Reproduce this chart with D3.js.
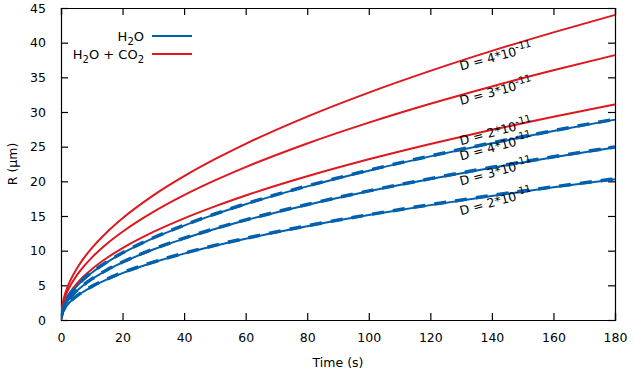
<!DOCTYPE html>
<html>
<head>
<meta charset="utf-8">
<script src="https://cdn.jsdelivr.net/npm/d3@7"></script>
<style>
  body { margin: 0; background: #fff; }
  text { font-family: "DejaVu Sans", sans-serif; font-size: 12.5px; fill: #000; }
</style>
</head>
<body>
<div id="root"></div>
<script>
// time points (s)
const times = [0, 0.5, 1, 2, 3, 5, 7, 10, 15, 20, 30, 40, 50, 60, 80, 100, 120, 140, 160, 180]

// H2O + CO2 (red)
const red4 = [0, 2.32, 3.28, 4.64, 5.68, 7.33, 8.68, 10.37, 12.70, 14.67, 17.97, 20.74, 23.19, 25.41, 29.34, 32.80, 35.93, 38.81, 41.49, 44.00]
const red3 = [0, 2.01, 2.85, 4.03, 4.93, 6.37, 7.53, 9.00, 11.03, 12.73, 15.59, 18.01, 20.13, 22.05, 25.46, 28.47, 31.19, 33.69, 36.01, 38.20]
const red2 = [0, 1.64, 2.32, 3.28, 4.01, 5.18, 6.13, 7.33, 8.98, 10.37, 12.70, 14.66, 16.39, 17.96, 20.73, 23.18, 25.39, 27.43, 29.32, 31.10]

// H2O (blue, solid)
const blue4 = [0, 1.52, 2.15, 3.05, 3.73, 4.82, 5.70, 6.81, 8.34, 9.63, 11.80, 13.62, 15.23, 16.69, 19.27, 21.54, 23.60, 25.49, 27.25, 28.90]
const blue3 = [0, 1.31, 1.86, 2.62, 3.21, 4.15, 4.91, 5.87, 7.19, 8.30, 10.17, 11.74, 13.12, 14.38, 16.60, 18.56, 20.33, 21.96, 23.48, 24.90]
const blue2 = [0, 1.07, 1.51, 2.14, 2.62, 3.38, 4.00, 4.79, 5.86, 6.77, 8.29, 9.57, 10.70, 11.72, 13.53, 15.13, 16.57, 17.90, 19.14, 20.30]

// H2O (blue, dashed)
const blue4d = [0.3, 1.62, 2.22, 3.12, 3.80, 4.88, 5.76, 6.87, 8.40, 9.69, 11.86, 13.68, 15.29, 16.75, 19.33, 21.60, 23.66, 25.55, 27.31, 28.96]
const blue3d = [0.3, 1.40, 1.93, 2.69, 3.28, 4.21, 4.97, 5.93, 7.25, 8.36, 10.23, 11.80, 13.18, 14.44, 16.66, 18.62, 20.39, 22.02, 23.54, 24.96]
const blue2d = [0.3, 1.15, 1.58, 2.21, 2.69, 3.44, 4.06, 4.85, 5.92, 6.83, 8.35, 9.63, 10.76, 11.78, 13.59, 15.19, 16.63, 17.96, 19.20, 20.36]

const xTicks = [0, 20, 40, 60, 80, 100, 120, 140, 160, 180]
const yTicks = [0, 5, 10, 15, 20, 25, 30, 35, 40, 45]

// curve labels: D value, position (t, R)
const labelD = ['4', '3', '2', '4', '3', '2']
const labelT = [130, 130, 130, 130, 130, 130]
const labelR = [36.0, 31.0, 25.2, 23.0, 19.4, 15.1]

const width = 635
const height = 374
const margin = { top: 8, right: 20, bottom: 54, left: 61 }

const blue = '#0060ad'
const red = '#dd181f'

const svg = d3.select('#root').append('svg')
  .attr('width', width)
  .attr('height', height)

const x = d3.scaleLinear().domain([0, 180]).range([margin.left, width - margin.right])
const y = d3.scaleLinear().domain([0, 45]).range([height - margin.bottom, margin.top])

const tickLen = 7

// axes with inward ticks on all four sides
svg.append('g')
  .attr('transform', `translate(0,${y(0)})`)
  .call(d3.axisBottom(x).tickValues(xTicks).tickSize(-tickLen).tickPadding(tickLen + 6))
svg.append('g')
  .attr('transform', `translate(0,${y(45)})`)
  .call(d3.axisTop(x).tickValues(xTicks).tickSize(-tickLen).tickFormat(''))
svg.append('g')
  .attr('transform', `translate(${x(0)},0)`)
  .call(d3.axisLeft(y).tickValues(yTicks).tickSize(-tickLen).tickPadding(tickLen + 8))
svg.append('g')
  .attr('transform', `translate(${x(180)},0)`)
  .call(d3.axisRight(y).tickValues(yTicks).tickSize(-tickLen).tickFormat(''))

svg.selectAll('.domain').attr('stroke', '#000').attr('stroke-width', 1.2)
svg.selectAll('.tick line').attr('stroke', '#000').attr('stroke-width', 1.2)
svg.selectAll('.tick text').style('font-family', '"DejaVu Sans", sans-serif').style('font-size', '12.5px')

// clip to plot area
svg.append('clipPath').attr('id', 'clip')
  .append('rect')
  .attr('x', x(0)).attr('y', y(45))
  .attr('width', x(180) - x(0)).attr('height', y(0) - y(45))

const line = d3.line()
  .x((d, i) => x(times[i]))
  .y(d => y(d))
  .curve(d3.curveMonotoneX)

const g = svg.append('g').attr('clip-path', 'url(#clip)')

for (const s of [red4, red3, red2]) {
  g.append('path').datum(s)
    .attr('fill', 'none').attr('stroke', red).attr('stroke-width', 2)
    .attr('d', line)
}
for (const s of [blue4d, blue3d, blue2d]) {
  g.append('path').datum(s)
    .attr('fill', 'none').attr('stroke', blue).attr('stroke-width', 3.5)
    .attr('stroke-dasharray', '12,9')
    .attr('d', line)
}
for (const s of [blue4, blue3, blue2]) {
  g.append('path').datum(s)
    .attr('fill', 'none').attr('stroke', blue).attr('stroke-width', 2)
    .attr('d', line)
}

// curve labels
labelD.forEach((d, i) => {
  const t = svg.append('text')
    .attr('transform', `translate(${x(labelT[i])},${y(labelR[i])}) rotate(-15)`)
  t.append('tspan').text(`D = ${d}*10`)
  t.append('tspan').attr('dy', -5).style('font-size', '10px').text('-11')
})

// legend
const legend = svg.append('g').style('font-size', '13px')
const leg1 = legend.append('text').attr('x', 144).attr('y', 41).attr('text-anchor', 'end').style('font-size', '13px')
leg1.append('tspan').text('H')
leg1.append('tspan').attr('dy', 4).style('font-size', '10px').text('2')
leg1.append('tspan').attr('dy', -4).text('O')
legend.append('line').attr('x1', 152).attr('x2', 192).attr('y1', 36).attr('y2', 36)
  .attr('stroke', blue).attr('stroke-width', 2)

const leg2 = legend.append('text').attr('x', 144).attr('y', 59).attr('text-anchor', 'end').style('font-size', '13px')
leg2.append('tspan').text('H')
leg2.append('tspan').attr('dy', 4).style('font-size', '10px').text('2')
leg2.append('tspan').attr('dy', -4).text('O + CO')
leg2.append('tspan').attr('dy', 4).style('font-size', '10px').text('2')
legend.append('line').attr('x1', 152).attr('x2', 192).attr('y1', 54).attr('y2', 54)
  .attr('stroke', red).attr('stroke-width', 2)

// axis titles
svg.append('text')
  .attr('x', (x(0) + x(180)) / 2).attr('y', 367)
  .attr('text-anchor', 'middle')
  .text('Time (s)')
svg.append('text')
  .attr('transform', `translate(17,${(y(0) + y(45)) / 2}) rotate(-90)`)
  .attr('text-anchor', 'middle')
  .text('R (µm)')
</script>
</body>
</html>
